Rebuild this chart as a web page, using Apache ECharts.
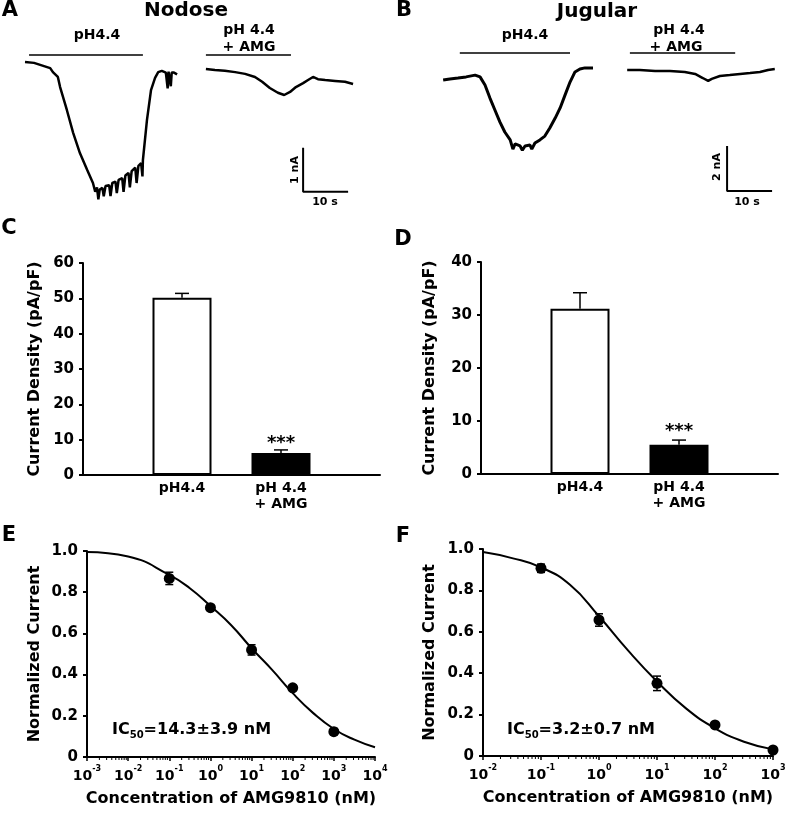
<!DOCTYPE html>
<html><head><meta charset="utf-8">
<script src="https://cdn.jsdelivr.net/npm/echarts@6/dist/echarts.min.js"></script>
<style>html,body{margin:0;padding:0;background:#fff}#c{width:790px;height:816px}</style>
</head><body><div id="c"></div>
<script>
// ---------- DATA ----------
// Panel A (Nodose) traces: [time s, current nA]
const traceA1 = [[0,0],[2,-0.02],[5.6,-0.14],[6.2,-0.23],[7.3,-0.34],[7.8,-0.57],[9.3,-1.09],[10.7,-1.61],[12.2,-2.07],[13.8,-2.45],[15.1,-2.75],[15.6,-2.95],[16.0,-2.85],[16.3,-3.12],[16.6,-2.9],[17.2,-2.86],[17.5,-3.05],[17.9,-2.82],[18.7,-2.80],[19.0,-3.05],[19.4,-2.75],[20.1,-2.72],[20.4,-2.98],[20.8,-2.68],[21.6,-2.64],[21.9,-2.95],[22.3,-2.58],[23.0,-2.52],[23.3,-2.85],[23.7,-2.48],[24.5,-2.4],[24.8,-2.75],[25.2,-2.36],[25.8,-2.3],[26.1,-2.6],[26.2,-2.23],[27.1,-1.32],[28.0,-0.64],[28.9,-0.36],[29.6,-0.23],[30.4,-0.2],[31.3,-0.24],[31.7,-0.6],[31.9,-0.22],[32.4,-0.55],[32.6,-0.24],[33.1,-0.24],[33.8,-0.28]];
const traceA2 = [[40.2,-0.16],[42.2,-0.18],[44.4,-0.2],[46.7,-0.23],[48.9,-0.27],[51.1,-0.34],[52.7,-0.45],[54.4,-0.59],[56.2,-0.7],[57.6,-0.75],[58.9,-0.68],[60.2,-0.57],[61.8,-0.48],[62.9,-0.41],[64.0,-0.34],[65.1,-0.39],[66.7,-0.41],[68.9,-0.43],[71.1,-0.45],[72.9,-0.5]];
const stimA = [[0.9,26.2],[40.2,59.1]];       // application periods (s)
const stimLevelA = 0.16;
const scaleA = {t:61.8, i:-2.95, dt:10, di:1};  // 10 s, 1 nA
// Panel B (Jugular) traces
const traceB1 = [[0.7,-0.28],[2.2,-0.23],[4.0,-0.19],[5.8,-0.14],[7.8,-0.06],[8.9,-0.14],[10.0,-0.5],[11.1,-1.08],[12.2,-1.61],[13.3,-2.14],[14.4,-2.59],[15.6,-2.94],[16.2,-3.35],[16.7,-3.12],[17.8,-3.21],[18.3,-3.4],[18.9,-3.21],[20.0,-3.17],[20.4,-3.35],[21.1,-3.08],[22.2,-2.94],[23.3,-2.77],[24.4,-2.41],[25.6,-1.97],[26.7,-1.52],[27.8,-0.94],[28.9,-0.37],[30.0,0.08],[31.1,0.21],[32.2,0.26],[34.0,0.26]];
const traceB2 = [[41.6,0.17],[44.4,0.17],[47.8,0.12],[51.1,0.12],[54.4,0.08],[56.7,-0.01],[58.4,-0.19],[59.6,-0.32],[60.4,-0.23],[62.2,-0.1],[64.4,-0.06],[66.7,-0.01],[68.9,0.03],[71.1,0.08],[72.9,0.17],[74.4,0.21]];
const stimB = [[4.4,28.9],[42.2,65.6]];
const stimLevelB = 0.92;
const scaleB = {t:63.8, i:-5.21, dt:10, di:2};  // 10 s, 2 nA
// Panels C, D bar charts
const barCategories = ['', 'pH4.4', 'pH 4.4\n+ AMG', ''];
const barC = [null, 50.2, 6.2, null];
const errC = [null, 1.2, 0.9, null];
const barD = [null, 31.2, 5.5, null];
const errD = [null, 3.0, 0.9, null];
// Panels E, F concentration-response
const concE = [0.1, 1, 10, 100, 1000];
const respE = [0.867, 0.725, 0.52, 0.336, 0.123];
const semE = [0.03, 0.012, 0.025, 0.012, 0.015];
const fitXE = [0.001, 0.01, 0.1, 0.316, 1, 3.16, 10, 31.6, 100, 316, 1000, 3162, 10000];
const fitYE = [0.995, 0.973, 0.884, 0.819, 0.733, 0.641, 0.528, 0.423, 0.31, 0.213, 0.136, 0.084, 0.047];
const concF = [0.1, 1, 10, 100, 1000];
const respF = [0.907, 0.657, 0.351, 0.15, 0.029];
const semF = [0.02, 0.03, 0.035, 0.012, 0.008];
const fitXF = [0.01, 0.0316, 0.1, 0.316, 1, 3.16, 10, 31.6, 100, 316, 1000];
const fitYF = [0.985, 0.956, 0.911, 0.827, 0.675, 0.51, 0.36, 0.23, 0.134, 0.069, 0.032];

// ---------- CHART ----------
const FF = '"DejaVu Sans", sans-serif';
const chart = echarts.init(document.getElementById('c'), null, {renderer:'canvas'});

function decadeMinors(lo, hi){ const out=[]; for(let e=lo;e<hi;e++){ for(let k=2;k<=9;k++) out.push([k*Math.pow(10,e),0]); } return out; }
const zip = (a,b)=>a.map((v,i)=>[v,b[i]]);

function errUp(params, api){
  const x=api.value(0), v=api.value(1), e=api.value(2);
  const p0=api.coord([x,v]), p1=api.coord([x,v+e]);
  return {type:'group', children:[
    {type:'line', shape:{x1:p0[0],y1:p0[1],x2:p1[0],y2:p1[1]}, style:{stroke:'#000',lineWidth:1.5}},
    {type:'line', shape:{x1:p1[0]-7,y1:p1[1],x2:p1[0]+7,y2:p1[1]}, style:{stroke:'#000',lineWidth:1.5}}
  ]};
}
function errBoth(params, api){
  const x=api.value(0), v=api.value(1), e=api.value(2);
  const p0=api.coord([x,v-e]), p1=api.coord([x,v+e]);
  return {type:'group', children:[
    {type:'line', shape:{x1:p0[0],y1:p0[1],x2:p1[0],y2:p1[1]}, style:{stroke:'#000',lineWidth:1.5}},
    {type:'line', shape:{x1:p0[0]-4,y1:p0[1],x2:p0[0]+4,y2:p0[1]}, style:{stroke:'#000',lineWidth:1.5}},
    {type:'line', shape:{x1:p1[0]-4,y1:p1[1],x2:p1[0]+4,y2:p1[1]}, style:{stroke:'#000',lineWidth:1.5}}
  ]};
}
function minorTick(params, api){
  const p=api.coord([api.value(0),0]);
  return {type:'line', shape:{x1:p[0],y1:p[1],x2:p[0],y2:p[1]+3}, style:{stroke:'#000',lineWidth:1}};
}

const lineS = (xi, data, w)=>({type:'line', xAxisIndex:xi, yAxisIndex:xi, data, showSymbol:false, symbol:'none', lineStyle:{color:'#000', width:w}, itemStyle:{color:'#000'}, silent:true, animation:false, clip:false});
const scaleBar = s=>[[s.t, s.i+s.di],[s.t, s.i],[s.t+s.dt, s.i]];

const valAxisY = (gi, min, max, iv, name, gap, fmt)=>({
  type:'value', gridIndex:gi, min, max, interval:iv,
  name, nameLocation:'middle', nameGap:gap, nameRotate:90,
  nameTextStyle:{fontFamily:FF, fontWeight:'bold', fontSize:16, color:'#000'},
  axisLine:{show:true, lineStyle:{color:'#000', width:2}},
  axisTick:{show:true, length:4, lineStyle:{color:'#000', width:2}},
  axisLabel:{fontFamily:FF, fontWeight:'bold', fontSize:15, color:'#000', margin:9, formatter:fmt},
  splitLine:{show:false}
});
const catAxisX = gi=>({
  type:'category', gridIndex:gi, data:barCategories, boundaryGap:false,
  axisLine:{lineStyle:{color:'#000', width:2}}, axisTick:{show:false},
  axisLabel:{fontFamily:FF, fontWeight:'bold', fontSize:14, lineHeight:16, color:'#000', margin:5, interval:0}
});
const logAxisX = (gi, min, max)=>({
  type:'log', logBase:10, gridIndex:gi, min, max,
  name:'Concentration of AMG9810 (nM)', nameLocation:'middle', nameGap:34,
  nameTextStyle:{fontFamily:FF, fontWeight:'bold', fontSize:16, color:'#000'},
  axisLine:{lineStyle:{color:'#000', width:2}},
  axisTick:{show:true, length:4, lineStyle:{color:'#000', width:1.5}},
  axisLabel:{margin:8, formatter:v=>'{b|10}{s|'+Math.round(Math.log10(v))+'}',
    rich:{b:{fontFamily:FF, fontWeight:'bold', fontSize:14, color:'#000', lineHeight:18, verticalAlign:'bottom'},
          s:{fontFamily:FF, fontWeight:'bold', fontSize:8, color:'#000', lineHeight:9, verticalAlign:'top'}}},
  splitLine:{show:false}
});
const fmt01 = v=> v===0 ? '0' : v.toFixed(1);

const barItems = (vals, distStar)=>vals.map((v,i)=>{
  if(v==null) return null;
  if(i===1) return {value:v, itemStyle:{color:'#fff', borderColor:'#000', borderWidth:2}};
  return {value:v, itemStyle:{color:'#000', borderColor:'#000', borderWidth:2},
    label:{show:true, position:'top', distance:distStar, formatter:'***', fontFamily:FF, fontWeight:'bold', fontSize:18, color:'#000'}};
});
const errItems = (vals, errs)=>vals.map((v,i)=> v==null?null:[i, v, errs[i]]).filter(d=>d);

const T = (text, x, y, size, opts)=>Object.assign({type:'text', x, y, silent:true,
  style:{text, fontFamily:FF, fontWeight:'bold', fontSize:size, fill:'#000', align:'center', verticalAlign:'middle'}}, opts||{});

const option = {
  animation:false,
  backgroundColor:'#fff',
  grid:[
    {left:25, top:40, width:330, height:176},
    {left:440, top:40, width:340, height:180},
    {left:83, top:263, width:297, height:212},
    {left:481, top:262, width:297, height:212},
    {left:87, top:551, width:288, height:206},
    {left:483, top:549, width:290, height:207}
  ],
  xAxis:[
    {type:'value', gridIndex:0, min:0, max:73.33, show:false},
    {type:'value', gridIndex:1, min:0, max:75.56, show:false},
    catAxisX(2), catAxisX(3),
    logAxisX(4, 0.001, 10000), logAxisX(5, 0.01, 1000)
  ],
  yAxis:[
    {type:'value', gridIndex:0, min:-3.5, max:0.5, show:false},
    {type:'value', gridIndex:1, min:-6.5, max:1.5, show:false},
    valAxisY(2, 0, 60, 10, 'Current Density (pA/pF)', 40),
    valAxisY(3, 0, 40, 10, 'Current Density (pA/pF)', 43),
    valAxisY(4, 0, 1, 0.2, 'Normalized Current', 44, fmt01),
    valAxisY(5, 0, 1, 0.2, 'Normalized Current', 45, fmt01)
  ],
  series:[
    lineS(0, traceA1, 2.5), lineS(0, traceA2, 2.5),
    lineS(0, [[stimA[0][0],stimLevelA],[stimA[0][1],stimLevelA]], 1.5),
    lineS(0, [[stimA[1][0],stimLevelA],[stimA[1][1],stimLevelA]], 1.5),
    lineS(0, scaleBar(scaleA), 2),
    lineS(1, traceB1, 3), lineS(1, traceB2, 2.5),
    lineS(1, [[stimB[0][0],stimLevelB],[stimB[0][1],stimLevelB]], 1.5),
    lineS(1, [[stimB[1][0],stimLevelB],[stimB[1][1],stimLevelB]], 1.5),
    lineS(1, scaleBar(scaleB), 2),
    {type:'bar', xAxisIndex:2, yAxisIndex:2, barWidth:59, data:barItems(barC, 1), silent:true},
    {type:'custom', xAxisIndex:2, yAxisIndex:2, renderItem:errUp, data:errItems(barC, errC), silent:true, z:1},
    {type:'bar', xAxisIndex:3, yAxisIndex:3, barWidth:59, data:barItems(barD, 5), silent:true},
    {type:'custom', xAxisIndex:3, yAxisIndex:3, renderItem:errUp, data:errItems(barD, errD), silent:true, z:1},
    Object.assign(lineS(4, zip(fitXE, fitYE), 2), {smooth:true}),
    {type:'custom', xAxisIndex:4, yAxisIndex:4, renderItem:errBoth, data:concE.map((c,i)=>[c,respE[i],semE[i]]), silent:true},
    {type:'scatter', xAxisIndex:4, yAxisIndex:4, data:zip(concE, respE), symbolSize:11, itemStyle:{color:'#000', opacity:1}, silent:true, z:3},
    {type:'custom', xAxisIndex:4, yAxisIndex:4, renderItem:minorTick, data:decadeMinors(-3,4), silent:true, clip:false},
    Object.assign(lineS(5, zip(fitXF, fitYF), 2), {smooth:true}),
    {type:'custom', xAxisIndex:5, yAxisIndex:5, renderItem:errBoth, data:concF.map((c,i)=>[c,respF[i],semF[i]]), silent:true},
    {type:'scatter', xAxisIndex:5, yAxisIndex:5, data:zip(concF, respF), symbolSize:11, itemStyle:{color:'#000', opacity:1}, silent:true, z:3},
    {type:'custom', xAxisIndex:5, yAxisIndex:5, renderItem:minorTick, data:decadeMinors(-2,3), silent:true, clip:false}
  ],
  graphic:[
    T('A', 10, 11, 21), T('B', 404, 11, 21), T('C', 9, 229, 21), T('D', 403, 240, 21), T('E', 9, 536, 21), T('F', 403, 537, 21),
    T('Nodose', 186, 11, 20), T('Jugular', 597, 12, 20),
    T('pH4.4', 97, 35, 14), T('pH 4.4', 249, 30, 14), T('+ AMG', 249, 47, 14),
    T('pH4.4', 525, 35, 14), T('pH 4.4', 679, 30, 14), T('+ AMG', 676, 47, 14),
    T('1 nA', 295, 170, 11, {rotation:Math.PI/2}), T('10 s', 325, 202, 11),
    T('2 nA', 717, 167, 11, {rotation:Math.PI/2}), T('10 s', 747, 202, 11),
    {type:'text', x:112, y:730, silent:true, style:{text:'{a|IC}{b|50}{a|=14.3±3.9 nM}', verticalAlign:'middle',
      rich:{a:{fontFamily:FF, fontWeight:'bold', fontSize:16, fill:'#000', color:'#000', lineHeight:20, verticalAlign:'middle'},
            b:{fontFamily:FF, fontWeight:'bold', fontSize:10, fill:'#000', color:'#000', lineHeight:10, verticalAlign:'bottom'}}}},
    {type:'text', x:507, y:730, silent:true, style:{text:'{a|IC}{b|50}{a|=3.2±0.7 nM}', verticalAlign:'middle',
      rich:{a:{fontFamily:FF, fontWeight:'bold', fontSize:16, fill:'#000', color:'#000', lineHeight:20, verticalAlign:'middle'},
            b:{fontFamily:FF, fontWeight:'bold', fontSize:10, fill:'#000', color:'#000', lineHeight:10, verticalAlign:'bottom'}}}}
  ]
};
chart.setOption(option);
</script></body></html>
